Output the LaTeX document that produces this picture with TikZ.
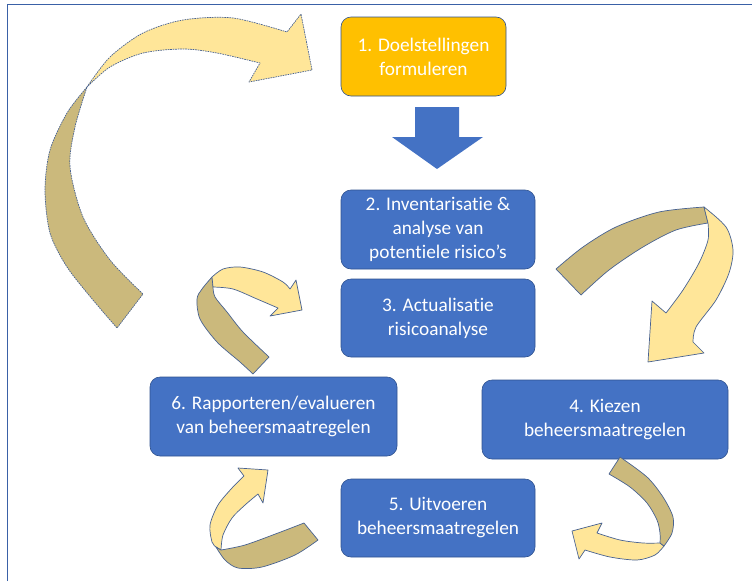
\documentclass[tikz,border=0pt]{standalone}
\usepackage{fontspec}
\setmainfont{Carlito}[Ligatures=CommonOff]
\definecolor{boxblue}{RGB}{68,114,196}
\definecolor{boxline}{RGB}{47,82,143}
\definecolor{goldbox}{RGB}{255,192,0}
\definecolor{ribbonlight}{RGB}{255,230,153}
\definecolor{ribbondark}{RGB}{203,185,124}
\definecolor{ribbonline}{RGB}{72,98,145}
\begin{document}
\begin{tikzpicture}[x=1pt,y=-1pt,
  stepbox/.style={rectangle, rounded corners=10pt, fill=boxblue, draw=boxline, line width=0.6pt,
    text=white, align=center, inner sep=0pt, font=\fontsize{19.3}{24}\selectfont},
  light/.style={fill=ribbonlight, draw=ribbonline, line width=0.7pt, line join=round},
  dark/.style={fill=ribbondark, draw=ribbonline, line width=0.7pt, line join=round},
  dotline/.style={dash pattern=on 1.6pt off 0.9pt}]
\useasboundingbox (0,0) rectangle (752,581);
\draw[boxblue!85!black, line width=1.3pt] (7.5,581) -- (7.5,4.5) -- (752,4.5);

% boxes
\node[stepbox, fill=goldbox, minimum width=165pt, minimum height=79pt] (s1) at (423.5,56.5) {1. Doelstellingen\\formuleren};
\node[stepbox, minimum width=194pt, minimum height=79pt] (s2) at (438,229.5) {2. Inventarisatie \&\\analyse van\\potentiele risico’s};
\node[stepbox, minimum width=194pt, minimum height=78pt] (s3) at (438,318) {3. Actualisatie\\risicoanalyse};
\node[stepbox, minimum width=246pt, minimum height=79pt] (s4) at (605,419.5) {4. Kiezen\\beheersmaatregelen};
\node[stepbox, minimum width=247pt, minimum height=79pt] (s6) at (273.5,416.5) {6. Rapporteren/evalueren\\van beheersmaatregelen};
\node[stepbox, minimum width=194pt, minimum height=78pt] (s5) at (438,518) {5. Uitvoeren\\beheersmaatregelen};

% block arrow 1 -> 2
\fill[boxblue] (415,107) -- (459,107) -- (459,137) -- (483,137) -- (437,169) -- (392,137) -- (415,137) -- cycle;

% big arrow (left)
\filldraw[dark, dotline] plot[smooth] coordinates {(87,87)(67,113)(50,150)(45,190)(50,233)(67,267)(93,300)(117,328)}
  -- plot[smooth] coordinates {(143,294)(110,260)(83,217)(70,167)(75,127)(87,87)} -- cycle;
\filldraw[light, dotline] plot[smooth] coordinates {(87,87)(110,57)(143,33)(183,20)(233,18)(287,32)}
  -- (301,14) -- (312,70) -- (249,82)
  -- plot[smooth] coordinates {(260,63)(217,53)(183,49)(143,53)(110,67)(87,87)} -- cycle;

% right arrow (2 -> 4)
\filldraw[dark] plot[smooth] coordinates {(556,269)(583,247)(616,227)(659,212)(704,207)}
  -- plot[smooth] coordinates {(708,223)(676,230)(643,247)(609,270)(581,295)} -- cycle;
\filldraw[light] plot[smooth] coordinates {(704,207)(726,227)(733,250)(729,273)(716,300)(696,327)(693,342)}
  -- (704,353) -- (648,362) -- (652,301)
  -- plot[smooth] coordinates {(666,313)(683,290)(699,263)(708,240)(708,223)} -- cycle;

% small arrow 6 -> 3
\filldraw[dark] plot[smooth] coordinates {(212,277)(202,289)(197,299)(200,319)(217,342)(240,362)(253,374)}
  -- plot[smooth] coordinates {(269,357)(243,332)(227,312)(215,297)(213,287)} -- cycle;
\filldraw[light] plot[smooth] coordinates {(212,277)(223,269)(240,267)(263,272)(283,282)(290,289)}
  -- (296,280) -- (302,310) -- (270,316)
  -- plot[smooth] coordinates {(278,308)(257,299)(233,289)(213,287)} -- cycle;

% small arrow 5 -> 6
\filldraw[light] plot[smooth] coordinates {(216,547)(212,542)(210,525)(218,505)(232,488)(244,476)}
  -- (238,468) -- (268,470) -- (263,503)
  -- plot[smooth] coordinates {(258,494)(245,505)(232,518)(223,535)(221,550)} -- cycle;
\filldraw[dark] plot[smooth] coordinates {(221,550)(245,545)(278,533)(304,523)}
  -- plot[smooth] coordinates {(318,540)(295,555)(262,567)(238,568)(225,560)(216,547)} -- cycle;

% small arrow 4 -> 5
\filldraw[light] plot[smooth] coordinates {(660,543)(643,543)(620,540)(597,533)}
  -- (602,523) -- (572,531) -- (579,559)
  -- plot[smooth] coordinates {(585,550)(610,557)(637,560)(655,555)(664,546)} -- cycle;
\filldraw[dark] plot[smooth] coordinates {(609,474)(630,487)(647,503)(657,520)(660,533)(660,543)}
  -- plot[smooth] coordinates {(664,546)(672,533)(673,517)(663,497)(647,477)(620,457)} -- cycle;
\end{tikzpicture}
\end{document}
